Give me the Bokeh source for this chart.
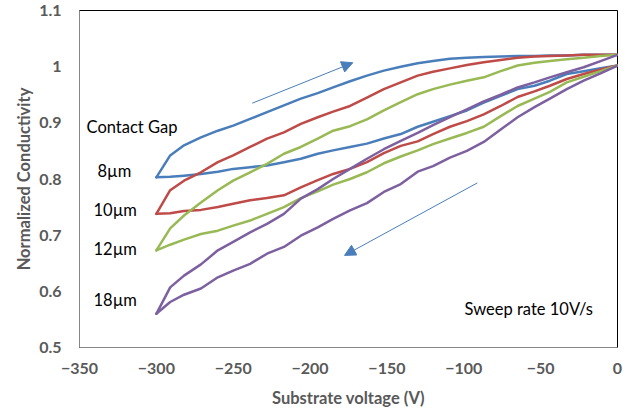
from bokeh.plotting import figure
from bokeh.models import Range1d, FixedTicker, CustomJSTickFormatter, Arrow, NormalHead, Label
from bokeh.embed import file_html
from bokeh.resources import INLINE

# ---------------- data ----------------
voltage = [-300, -291, -282, -271, -260, -250, -239, -228, -217, -206, -195, -185, -174, -163,
           -152, -141, -130, -120, -109, -98, -87, -76, -65, -54, -44, -33, -22, -11, 0]

# forward sweep (upper branch) and reverse sweep (lower branch)
gap8_up = [0.803, 0.842, 0.860, 0.874, 0.886, 0.895, 0.907, 0.919, 0.931, 0.943, 0.953, 0.963, 0.974, 0.984,
           0.993, 1.000, 1.006, 1.010, 1.014, 1.016, 1.017, 1.018, 1.019, 1.019, 1.020, 1.020, 1.021, 1.021, 1.021]
gap8_dn = [0.803, 0.804, 0.806, 0.809, 0.813, 0.818, 0.821, 0.824, 0.830, 0.836, 0.845, 0.851, 0.857, 0.863,
           0.872, 0.880, 0.893, 0.902, 0.912, 0.922, 0.936, 0.948, 0.960, 0.966, 0.975, 0.987, 0.992, 0.997, 1.002]

gap10_up = [0.738, 0.780, 0.797, 0.812, 0.830, 0.842, 0.857, 0.872, 0.883, 0.898, 0.910, 0.920, 0.930, 0.945,
            0.960, 0.972, 0.984, 0.991, 0.997, 1.003, 1.008, 1.012, 1.016, 1.018, 1.019, 1.020, 1.021, 1.021, 1.021]
gap10_dn = [0.738, 0.739, 0.743, 0.745, 0.750, 0.756, 0.762, 0.766, 0.771, 0.785, 0.798, 0.809, 0.818, 0.830,
            0.846, 0.859, 0.867, 0.880, 0.893, 0.903, 0.915, 0.930, 0.946, 0.956, 0.966, 0.978, 0.987, 0.995, 1.002]

gap12_up = [0.673, 0.712, 0.735, 0.758, 0.780, 0.797, 0.812, 0.827, 0.845, 0.857, 0.872, 0.886, 0.894, 0.906,
            0.922, 0.937, 0.951, 0.960, 0.968, 0.975, 0.981, 0.992, 1.002, 1.007, 1.010, 1.013, 1.016, 1.019, 1.021]
gap12_dn = [0.673, 0.683, 0.692, 0.702, 0.708, 0.717, 0.726, 0.738, 0.750, 0.766, 0.778, 0.790, 0.800, 0.812,
            0.828, 0.840, 0.851, 0.862, 0.872, 0.882, 0.893, 0.912, 0.930, 0.943, 0.955, 0.972, 0.982, 0.992, 1.002]

gap18_up = [0.560, 0.607, 0.628, 0.648, 0.673, 0.688, 0.705, 0.720, 0.738, 0.765, 0.782, 0.800, 0.818, 0.836,
            0.853, 0.868, 0.882, 0.896, 0.910, 0.924, 0.938, 0.950, 0.963, 0.972, 0.981, 0.990, 0.999, 1.010, 1.021]
gap18_dn = [0.560, 0.581, 0.594, 0.605, 0.625, 0.637, 0.649, 0.667, 0.679, 0.699, 0.714, 0.729, 0.744, 0.757,
            0.777, 0.791, 0.813, 0.823, 0.838, 0.850, 0.866, 0.888, 0.910, 0.928, 0.943, 0.960, 0.975, 0.988, 1.002]

series_names = ["8µm", "10µm", "12µm", "18µm"]
series_colors = ["#4A7EBB", "#BE4B48", "#98B954", "#7D60A0"]

x_ticks = [-350, -300, -250, -200, -150, -100, -50, 0]
y_ticks = [0.5, 0.6, 0.7, 0.8, 0.9, 1.0, 1.1]

# ---------------- figure ----------------
FONT = "Lato"
GRAY = "#595959"

p = figure(frame_width=538, frame_height=337, output_backend="svg", toolbar_location=None,
           x_range=Range1d(-350, 0), y_range=Range1d(0.5, 1.1),
           min_border_left=79, min_border_right=23, min_border_top=10, min_border_bottom=67)
p.background_fill_color = "white"
p.border_fill_color = "white"
p.outline_line_color = "black"
p.outline_line_width = 1
p.xgrid.visible = False
p.ygrid.visible = False

ups = [gap8_up, gap10_up, gap12_up, gap18_up]
dns = [gap8_dn, gap10_dn, gap12_dn, gap18_dn]
for up, dn, c in zip(ups, dns, series_colors):
    p.line(voltage, up, line_color=c, line_width=2.5, line_join="round", line_cap="round")
    p.line(voltage, dn, line_color=c, line_width=2.5, line_join="round", line_cap="round")

for ax in (p.xaxis[0], p.yaxis[0]):
    ax.axis_line_color = "#868686"
    ax.axis_line_width = 1
    ax.major_tick_line_color = None
    ax.minor_tick_line_color = None
    ax.major_tick_out = 0
    ax.major_tick_in = 0
    ax.major_label_text_font = FONT
    ax.major_label_text_font_style = "bold"
    ax.major_label_text_font_size = "16px"
    ax.major_label_text_color = GRAY
    ax.axis_label_text_font = FONT
    ax.axis_label_text_font_style = "bold"
    ax.axis_label_text_font_size = "16.5px"
    ax.axis_label_text_color = GRAY

p.xaxis.ticker = FixedTicker(ticks=x_ticks)
p.yaxis.ticker = FixedTicker(ticks=y_ticks)
p.yaxis.formatter = CustomJSTickFormatter(code="return tick.toFixed(1).replace(/\\.0$/, '');")
p.xaxis.axis_label = "Substrate voltage (V)"
p.yaxis.axis_label = "Normalized Conductivity"
p.xaxis.major_label_standoff = 15
p.xaxis.axis_label_standoff = 11
p.yaxis.major_label_standoff = 18
p.yaxis.axis_label_standoff = 2

# annotations
def add_label(x, y, text):
    p.add_layout(Label(x=x, y=y, text=text, text_font=FONT, text_font_size="16.5px",
                       text_color="black", text_baseline="middle", text_align="left"))

add_label(-345.4, 0.892, "Contact Gap")
add_label(-338.3, 0.815, series_names[0])
add_label(-340.9, 0.744, series_names[1])
add_label(-340.9, 0.675, series_names[2])
add_label(-340.9, 0.585, series_names[3])
add_label(-99.5, 0.568, "Sweep rate 10V/s")

arrow_col = "#4A7EBB"
p.add_layout(Arrow(x_start=-237.6, y_start=0.935, x_end=-172.2, y_end=1.007,
                   line_color=arrow_col, line_width=1,
                   end=NormalHead(size=11, fill_color=arrow_col, line_color=arrow_col)))
p.add_layout(Arrow(x_start=-91.2, y_start=0.793, x_end=-177.6, y_end=0.664,
                   line_color=arrow_col, line_width=1,
                   end=NormalHead(size=11, fill_color=arrow_col, line_color=arrow_col)))

open("out.html", "w").write(file_html(p, INLINE))
